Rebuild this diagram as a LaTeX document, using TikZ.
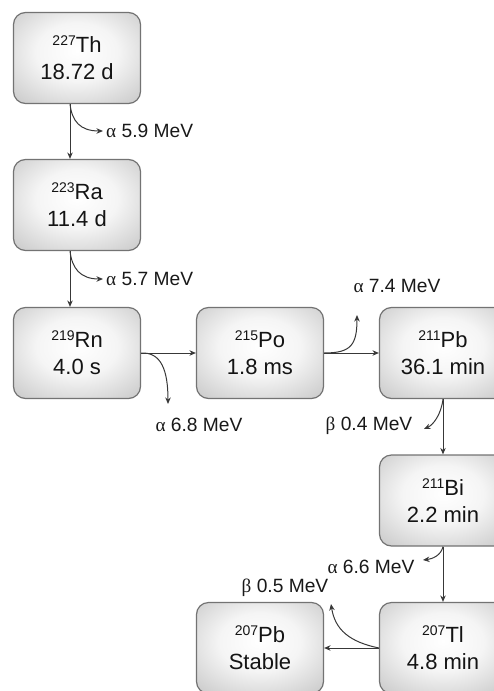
\documentclass[tikz,border=0pt]{standalone}
\usepackage{fontspec}
\setmainfont{Liberation Sans}
\newfontfamily\greekfont{Liberation Serif}
\usetikzlibrary{arrows.meta}

% soft radial fill for the nuclide boxes
\pgfdeclareradialshading{nuclideshade}{\pgfpoint{0bp}{4bp}}{%
  color(0bp)=(white); color(16bp)=(white!96!black);
  color(50bp)=(black!32); color(100bp)=(black!32)}

\newcommand\nuc[2]{\raisebox{7pt}{\fontsize{14}{14}\selectfont #1}#2}
\newcommand\gr[1]{{\greekfont #1}}

\tikzset{
  nuclide/.style={draw=black!55, line width=1.2pt, rounded corners=12pt,
    shading=nuclideshade, minimum width=127pt, minimum height=91pt,
    align=center, text=black!92, font=\fontsize{22}{27}\selectfont,
    inner sep=0pt},
  decay/.style={draw=black!78, line width=1pt,
    -{Stealth[length=6.5pt,width=5.5pt]}},
  emit/.style={decay},
  energy/.style={text=black!90, font=\fontsize{19.2}{21}\selectfont, inner sep=0pt}
}

\begin{document}
\begin{tikzpicture}[x=1pt, y=-1pt]
  \useasboundingbox (0,0) rectangle (494,691);
  \clip (0,0) rectangle (494,691);

  % nuclides of the chain
  \node[nuclide] (th227) at (77,58)    {\nuc{227}{Th}\\18.72 d};
  \node[nuclide] (ra223) at (77,205)   {\nuc{223}{Ra}\\11.4 d};
  \node[nuclide] (rn219) at (77,353)   {\nuc{219}{Rn}\\4.0 s};
  \node[nuclide] (po215) at (260,353)  {\nuc{215}{Po}\\1.8 ms};
  \node[nuclide] (pb211) at (443,353)  {\nuc{211}{Pb}\\36.1 min};
  \node[nuclide] (bi211) at (443,500.5){\nuc{211}{Bi}\\2.2 min};
  \node[nuclide] (tl207) at (443,648)  {\nuc{207}{Tl}\\4.8 min};
  \node[nuclide] (pb207) at (260,648)  {\nuc{207}{Pb}\\Stable};

  % column of the first two decays
  \coordinate (colA) at (70,0);

  % decay steps
  \draw[decay] (th227.south -| colA) -- (ra223.north -| colA);
  \draw[decay] (ra223.south -| colA) -- (rn219.north -| colA);
  \draw[decay] (rn219.east) -- (po215.west);
  \draw[decay] (po215.east) -- (pb211.west);
  \draw[decay] (pb211.south) -- (bi211.north);
  \draw[decay] (bi211.south) -- (tl207.north);
  \draw[decay] (tl207.west) -- (pb207.east);

  % emitted particles
  \coordinate (e1) at (103,131);
  \coordinate (e2) at (103,279);
  \coordinate (e3) at (168,404);
  \coordinate (e4) at (357,315);
  \coordinate (e5) at (424,429);
  \coordinate (e6) at (423,560);
  \coordinate (e7) at (331,604);

  \draw[emit] (th227.south -| colA) .. controls +(2,17) and +(-23,0) .. (e1);
  \draw[emit] (ra223.south -| colA) .. controls +(2,17) and +(-23,0) .. (e2);
  \draw[emit] (rn219.east) .. controls +(20,-1) and +(0,-34) .. (e3);
  \draw[emit] (po215.east) .. controls +(27,0) and +(0,30) .. (e4);
  \draw[emit] (pb211.south) .. controls +(-2,16) and +(9,-4) .. (e5);
  \draw[emit] (bi211.south) .. controls +(-2,9) and +(9,-1) .. (e6);
  \draw[emit] (tl207.west) .. controls +(-29,-6) and +(4,26) .. (e7);

  % energies
  \node[energy, anchor=west] (l1) at (106,131) {\gr{α} 5.9 MeV};
  \node[energy, anchor=west] (l2) at (106,279) {\gr{α} 5.7 MeV};
  \node[energy] (l3) at (199,425) {\gr{α} 6.8 MeV};
  \node[energy] (l4) at (397,286) {\gr{α} 7.4 MeV};
  \node[energy] (l5) at (369,426) {\gr{β} 0.4 MeV};
  \node[energy] (l6) at (371,567) {\gr{α} 6.6 MeV};
  \node[energy] (l7) at (285,588) {\gr{β} 0.5 MeV};
\end{tikzpicture}
\end{document}
